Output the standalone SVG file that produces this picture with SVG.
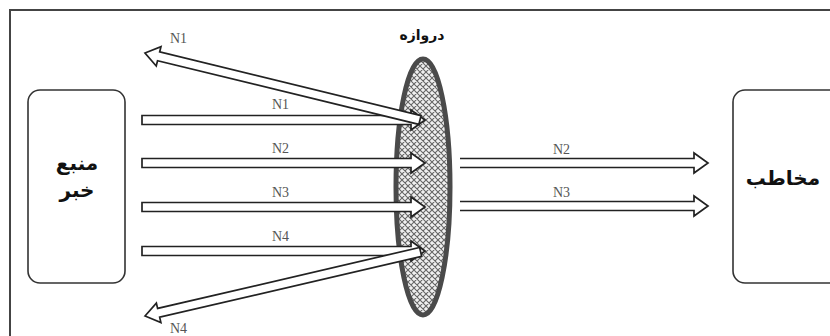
<svg xmlns="http://www.w3.org/2000/svg" width="830" height="336" viewBox="0 0 830 336">
<style>
.frame{fill:#fff;stroke:#444;stroke-width:2}
.box{fill:#fff;stroke:#333;stroke-width:1.6}
.arr{fill:#fff;stroke:#222;stroke-width:1.7;stroke-linejoin:miter}
.lbl{font-family:"Liberation Serif",serif;font-size:14px;fill:#555}
.fa{font-family:"DejaVu Sans","Noto Sans",sans-serif;fill:#111;text-anchor:middle}
</style>
<defs>
<pattern id="hatch" width="6" height="6" patternUnits="userSpaceOnUse">
<rect width="6" height="6" fill="#f0f0f0"/>
<path d="M0,0 L6,6 M-1,5 L1,7 M5,-1 L7,1 M6,0 L0,6 M-1,1 L1,-1 M5,7 L7,5" stroke="#666" stroke-width="1.1"/>
</pattern>
</defs>
<rect class="frame" x="10" y="10" width="830" height="340"/>
<g id="source">
<rect class="box" x="28" y="90" width="97" height="193" rx="12"/>
<text class="fa" x="77" y="170" font-size="20" font-weight="bold">منبع</text>
<text class="fa" x="77" y="197" font-size="20" font-weight="bold">خبر</text>
</g>
<g id="audience">
<rect class="box" x="733" y="90" width="110" height="193" rx="12"/>
<text class="fa" x="783" y="185" font-size="20" font-weight="bold">مخاطب</text>
</g>
<g id="gate">
<ellipse cx="423" cy="187" rx="27" ry="128" fill="url(#hatch)" stroke="#4a4a4a" stroke-width="5"/>
<text class="fa" x="422" y="40" font-size="14" font-weight="bold">دروازه</text>
</g>
<g id="connectors">
<polygon class="arr" points="142,115.5 411,115.5 411,110 425,120 411,130 411,124.5 142,124.5"/>
<polygon class="arr" points="142,158.5 411,158.5 411,153 425,163 411,173 411,167.5 142,167.5"/>
<polygon class="arr" points="142,202.5 411,202.5 411,197 425,207 411,217 411,211.5 142,211.5"/>
<polygon class="arr" points="142,246.5 411,246.5 411,241 425,251 411,261 411,255.5 142,255.5"/>
<g transform="translate(145,53) rotate(13.7)">
<polygon class="arr" points="0,0 14,-10 14,-4.5 283,-4.5 283,4.5 14,4.5 14,10"/>
</g>
<g transform="translate(145,316) rotate(-13.1)">
<polygon class="arr" points="0,0 14,-10 14,-4.5 283,-4.5 283,4.5 14,4.5 14,10"/>
</g>
<path class="arr" d="M460,158.5 H694 V153 L708,163 L694,173 V167.5 H460"/>
<path class="arr" d="M460,201.5 H694 V196 L708,206 L694,216 V210.5 H460"/>
</g>
<text class="lbl" x="170" y="43">N1</text>
<text class="lbl" x="272" y="109">N1</text>
<text class="lbl" x="272" y="153">N2</text>
<text class="lbl" x="272" y="197">N3</text>
<text class="lbl" x="272" y="241">N4</text>
<text class="lbl" x="170" y="333">N4</text>
<text class="lbl" x="553" y="154">N2</text>
<text class="lbl" x="553" y="197">N3</text>
</svg>
